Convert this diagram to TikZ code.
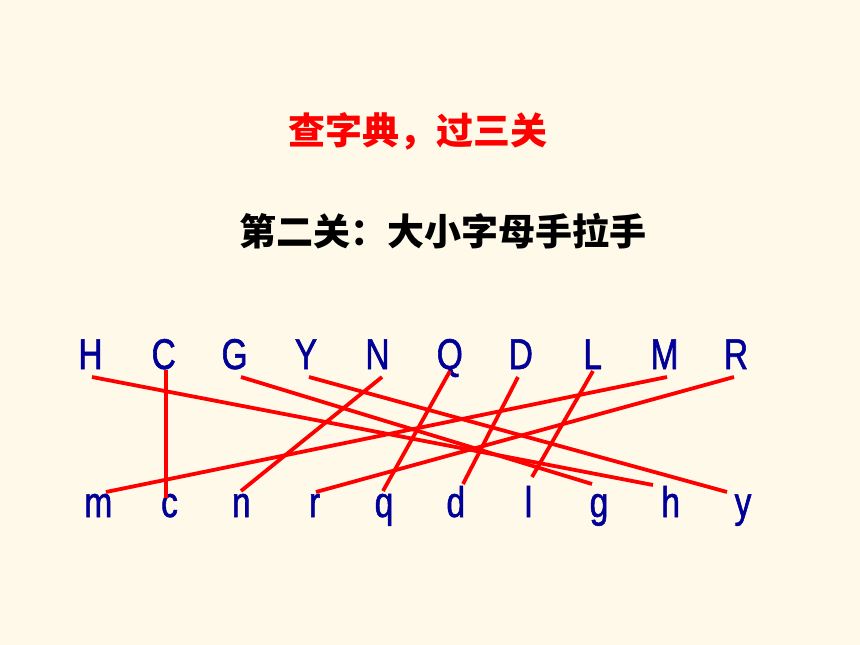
\documentclass[tikz,border=0pt]{standalone}
\usepackage{fontspec}
\setmainfont{Liberation Sans}
\newfontfamily\cjk{Noto Sans CJK SC}
\newfontfamily\narrowsans[FakeStretch=0.78,FakeBold=1.3]{Liberation Sans}
\usetikzlibrary{calc}
\definecolor{bg}{RGB}{254,249,233}
\definecolor{letterblue}{RGB}{0,0,153}
\begin{document}
\begin{tikzpicture}[x=1pt,y=-1pt,
  letter/.style={anchor=base,inner sep=0pt,text=letterblue,font=\narrowsans\fontsize{43}{43}\selectfont},
  link/.style={draw=red,line width=3.8pt},
  titletext/.style={inner sep=0pt,font=\cjk\bfseries\fontsize{37}{37}\selectfont}]
\fill[bg] (0,0) rectangle (860,645);
\useasboundingbox (0,0) rectangle (860,645);
\node[titletext,text=red] (title) at (417.5,131) {查字典，过三关};
\node[titletext,text=black] (sub) at (443.3,231) {第二关：大小字母手拉手};
% upper case
\node[letter] (H) at (90.5,369) {H};
\node[letter] (C) at (163.7,369) {C};
\node[letter] (G) at (234.6,369) {G};
\node[letter] (Y) at (306,369) {Y};
\node[letter] (N) at (377.5,369) {N};
\node[letter] (Q) at (449.8,369) {Q};
\node[letter] (D) at (520.8,369) {D};
\node[letter] (L) at (592.7,369) {L};
\node[letter] (M) at (664.5,369) {M};
\node[letter] (R) at (736,369) {R};
% lower case
\node[letter] (m) at (98.3,517) {m};
\node[letter] (c) at (169.5,517) {c};
\node[letter] (n) at (241.3,517) {n};
\node[letter] (r) at (314.6,517) {r};
\node[letter] (q) at (384,517) {q};
\node[letter] (d) at (455.8,517) {d};
\node[letter] (l) at (528.5,517) {l};
\node[letter] (g) at (599,517) {g};
\node[letter] (h) at (670.7,517) {h};
\node[letter] (y) at (743,517) {y};
% links
\draw[link] ($(H.base)+(1.5,8)$) -- ($(h.base)+(-17.7,-32)$);
\draw[link] ($(C.base)+(2.3,1)$) -- ($(c.base)+(-3.5,-19)$);
\draw[link] ($(G.base)+(6.4,8)$) -- ($(g.base)+(-7,-33)$);
\draw[link] ($(Y.base)+(3,8)$) -- ($(y.base)+(-16,-25)$);
\draw[link] ($(N.base)+(4.5,8)$) -- ($(n.base)+(-0.3,-26)$);
\draw[link] ($(Q.base)+(0.2,2)$) -- ($(q.base)+(-1,-26)$);
\draw[link] ($(D.base)+(-2.8,8)$) -- ($(d.base)+(7.2,-33)$);
\draw[link] ($(L.base)+(0.3,2)$) -- ($(l.base)+(3.5,-40)$);
\draw[link] ($(M.base)+(2.5,8)$) -- ($(m.base)+(7.7,-25)$);
\draw[link] ($(R.base)+(-2,8)$) -- ($(r.base)+(1.4,-25)$);
\end{tikzpicture}
\end{document}
